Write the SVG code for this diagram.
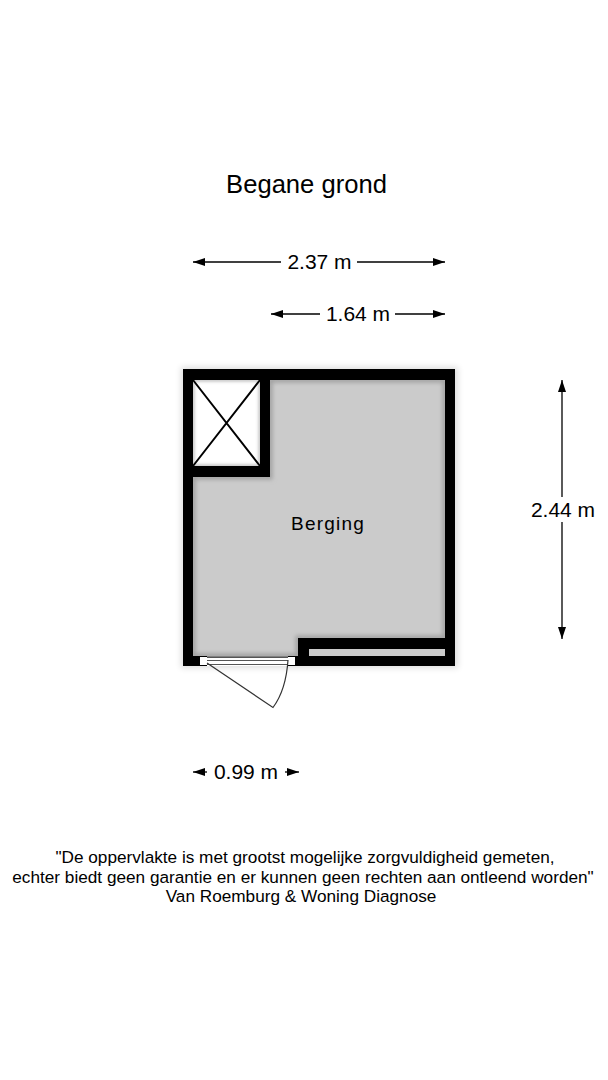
<svg xmlns="http://www.w3.org/2000/svg" width="608" height="1080" viewBox="0 0 608 1080">
<style>
text{font-family:"Liberation Sans",Arial,sans-serif;fill:#000;text-anchor:middle}
.dim{font-size:21px}
.note{font-size:17.200px}
.dl{stroke:#000;stroke-width:1.3;fill:none}
.thin{stroke:#333;stroke-width:1.2;fill:none}
.glass{stroke:#555;stroke-width:1;fill:none}
.x{stroke:#000;stroke-width:2;fill:none}
.inner{fill:none;stroke:#a0a0a0;stroke-width:5;filter:url(#b2)}
.innerw{fill:none;stroke:#bbb;stroke-width:3;filter:url(#b1)}
</style>
<defs>
<filter id="b2" x="-10%" y="-10%" width="120%" height="120%"><feGaussianBlur stdDeviation="2.2"/></filter>
<filter id="b1" x="-10%" y="-10%" width="120%" height="120%"><feGaussianBlur stdDeviation="1.5"/></filter>
<filter id="sh" x="-10%" y="-10%" width="120%" height="120%"><feGaussianBlur stdDeviation="3"/></filter>
<clipPath id="roomClip"><path d="M193 477H270V380H445V638H298V656H193Z"/></clipPath>
<clipPath id="closetClip"><rect x="193" y="380" width="67" height="86"/></clipPath>
<marker id="ae" viewBox="0 0 12 8" refX="12" refY="4" markerWidth="12" markerHeight="8" markerUnits="userSpaceOnUse" orient="auto"><path d="M0 0L12 4L0 8Z" fill="#000"/></marker>
<marker id="as" viewBox="0 0 12 8" refX="0" refY="4" markerWidth="12" markerHeight="8" markerUnits="userSpaceOnUse" orient="auto"><path d="M12 0L0 4L12 8Z" fill="#000"/></marker>
</defs>
<rect width="608" height="1080" fill="#fff"/>
<text id="title" x="306.500" y="193" font-size="25.600">Begane grond</text>

<g id="plan">
<rect x="181" y="367" width="277" height="301" fill="#000" opacity=".13" filter="url(#sh)"/>
<rect x="183" y="369" width="272" height="297" fill="#000"/>
</g>
<g id="room-berging">
<path d="M193 477H270V380H445V638H298V656H193Z" fill="#cbcbcb"/>
<path class="inner" clip-path="url(#roomClip)" d="M193 477H270V380H445V638H298V656H193Z"/>
<text x="328" y="530" font-size="19" letter-spacing="1.200">Berging</text>
</g>
<g id="closet">
<rect x="193" y="380" width="67" height="86" fill="#fff"/>
<rect class="innerw" clip-path="url(#closetClip)" x="193" y="380" width="67" height="86"/>
<path class="x" d="M193 380L260 466M260 380L193 466"/>
</g>
<g id="slot">
<rect x="309" y="649" width="136" height="7" fill="#cbcbcb"/>
</g>
<g id="door">
<rect x="200" y="657" width="7" height="8" fill="#fff"/>
<rect x="288" y="657" width="7" height="8" fill="#fff"/>
<rect x="207" y="656.500" width="81" height="9.500" fill="#fff"/>
<path class="glass" d="M207 657.500H288M207 660.500H288M207 664.500H288"/>
<path class="thin" d="M207 663L273 707.500Q286 690 288 660"/>
</g>

<g id="connectors">
<path class="dl" marker-start="url(#as)" d="M193 262H281"/>
<path class="dl" marker-end="url(#ae)" d="M357 262H445"/>
<path class="dl" marker-start="url(#as)" d="M271 314H320"/>
<path class="dl" marker-end="url(#ae)" d="M395 314H445"/>
<path class="dl" marker-start="url(#as)" d="M562 380V497"/>
<path class="dl" marker-end="url(#ae)" d="M562 522V639"/>
<path class="dl" marker-start="url(#as)" d="M193 772H207"/>
<path class="dl" marker-end="url(#ae)" d="M285 772H299"/>
</g>
<g id="dimension-labels">
<text class="dim" x="319.500" y="269">2.37 m</text>
<text class="dim" x="358" y="321">1.64 m</text>
<text class="dim" x="563" y="517">2.44 m</text>
<text class="dim" x="246" y="779">0.99 m</text>
</g>
<g id="note">
<text class="note" x="305" y="863">"De oppervlakte is met grootst mogelijke zorgvuldigheid gemeten,</text>
<text class="note" x="303" y="883">echter biedt geen garantie en er kunnen geen rechten aan ontleend worden"</text>
<text class="note" x="301" y="902">Van Roemburg &amp; Woning Diagnose</text>
</g>
</svg>
